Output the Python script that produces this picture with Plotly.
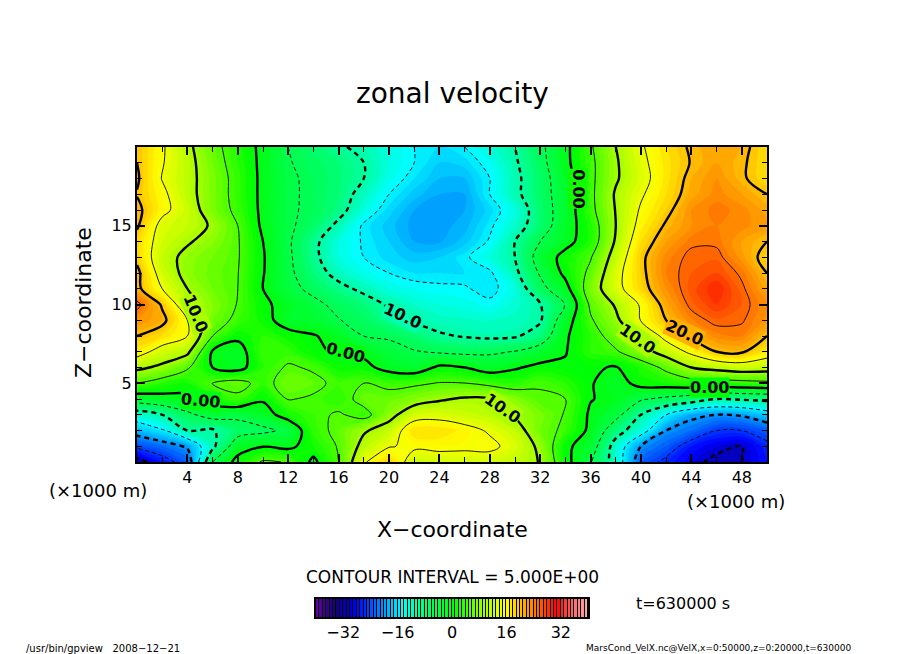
import plotly.graph_objects as go

W, H = 904, 654

x_km = [0, 2, 4, 6, 8, 10, 12, 14, 16, 18, 20, 22, 24, 26, 28, 30, 32, 34, 36, 38, 40, 42, 44, 46, 48, 50]
z_km = list(range(21))

# zonal velocity, one list per height (z in km)
u_z00 = [-32, -27, -23, -5, 1.5, 5.5, 4.8, -1, 5, 14.5, 19, 12.5, 13, 13, 13, 12, 9.8, 1.5, -4.7, -12, -23, -26, -29, -31, -30, -27]
u_z01 = [-24, -22, -19.5, -11, -2, -0.2, -1, 2, 5.3, 11.5, 14.7, 15.8, 16, 15.8, 16, 13.5, 9, 1, -2.5, -12, -20, -23, -27, -29, -30, -26]
u_z02 = [-18, -15.5, -10, -10.5, -7, -6, -4, 3.5, 6, 9.5, 12, 18, 18, 16.5, 14.5, 12, 7, 4, -1, -8, -13, -20, -22, -25, -25, -23]
u_z03 = [-12.5, -10, -6, -3, -4, -2, 2, 4, 5.5, 3.5, 8.5, 13, 13.5, 12.5, 11.5, 9.5, 7.5, 4.7, -0.7, -3.5, -10, -15, -19, -20, -19.5, -17]
u_z04 = [-2.5, -1.5, -1, 2, 4, 0.5, 5.2, 4.5, 3, 6.5, 6.5, 8, 9.5, 10.5, 10.1, 8, 5.3, 5, 0.2, -1.2, -4.5, -6, -7.5, -10, -9.5, -9]
u_z05 = [5, 3, 2, 5.2, 6.5, 3.5, 7, 6, 4, 5, 4, 4.3, 5.2, 5.1, 4, 3, 4.8, 3, 0.3, -2, 1.5, 2, 3, 3, 3.5, 4]
u_z06 = [11, 9, 5.5, 0, -1.5, 3, 5.5, 4.5, 1.5, 1.2, -1.5, -2.5, 0.8, 0, -2, -0.4, 1, 0.5, 0.5, -0.3, 2.5, 6, 10, 11.5, 12.5, 12]
u_z07 = [17, 13, 11, -0.5, -2, 4, 3.5, 0.7, -0.5, -1, -3.5, -4.7, -5.5, -6, -5.7, -4.8, -2.5, -0.2, 3, 4.5, 8, 12, 16, 20, 20.5, 17]
u_z08 = [20, 18, 15, 5, 1, 3, 1.5, 0.3, -1.5, -5, -5.5, -7.5, -9.5, -10.3, -10.8, -10.5, -8, -0.5, 3, 7, 10.8, 16.5, 20.8, 23.5, 24, 20]
u_z09 = [23, 21, 15, 7, 4, 1.5, -2, -2.5, -4.8, -6.5, -9, -10.5, -11.5, -11.8, -12, -11.5, -10.5, -2, 4.5, 9, 15.2, 20, 23.8, 25.8, 25.3, 22.5]
u_z10 = [26, 19.5, 11.5, 8, 4.8, 0.8, -1.5, -3.8, -6.3, -8, -10.5, -12, -13, -13.5, -14.3, -12.5, -10.2, -4.8, 5.8, 10.5, 15.5, 21.5, 25.7, 28, 26, 23]
u_z11 = [21, 15, 10, 7, 5, 0, -3.5, -6.2, -8.7, -11, -13, -14, -14.5, -14.7, -16, -13, -6.5, -1.5, 7.5, 13.5, 18.5, 23, 26.5, 29, 25.5, 21.5]
u_z12 = [21, 13, 8.5, 6.5, 5.1, 0.2, -4, -8, -11.5, -13.5, -15, -16, -16, -16, -15.5, -11, -4.5, 1, 6, 13.5, 19, 24, 26, 27, 24.5, 20]
u_z13 = [19, 12, 8.7, 7, 5.3, 0.3, -4.2, -9, -13, -15, -16.5, -17.5, -17, -15.5, -13, -10, -3, 1.5, 4.7, 12, 19.2, 23.5, 25.7, 25.8, 22.5, 18.5]
u_z14 = [18.5, 13, 10.5, 8.2, 5.3, 0, -4.4, -9, -13, -15.3, -17, -19, -19.2, -17.5, -14.7, -10, -5, -1.5, 2.5, 10.5, 18, 22, 24.5, 24.5, 22, 20]
u_z15 = [20.5, 13.5, 12, 9.5, 5, -0.8, -4.2, -7, -11, -15.5, -17.5, -19.5, -19.5, -18.5, -15.5, -12, -7.5, -2, 2.5, 10, 16.5, 20.5, 23, 24, 23.5, 22]
u_z16 = [21, 16.2, 12.5, 7.5, 4, -1, -4.3, -6, -8.5, -13, -16.5, -19, -19.5, -19, -16.5, -13, -7.5, -2.5, 3.8, 10.2, 15.5, 19, 23, 24.5, 23.5, 21.5]
u_z17 = [19.8, 16, 11.5, 7.5, 3.5, -1, -4.2, -6, -8, -11.5, -15, -17.5, -19, -19, -15, -11, -7, -2.5, 4, 10.5, 14.5, 18, 21.5, 23.5, 22, 20]
u_z18 = [20.5, 14.8, 11.5, 7.5, 3.5, -1, -4.3, -6, -7.8, -10, -13.5, -16, -18, -18, -15, -11, -7, -2, 4, 9.5, 13.5, 17.5, 21, 23, 20.5, 18]
u_z19 = [20, 15.3, 11.5, 7, 3, -1, -4.7, -6.5, -8, -10, -13, -15, -17, -16.5, -14, -10.5, -6.5, -1, 4, 9.5, 14, 17.5, 20.2, 22, 20.5, 18]
u_z20 = [20, 15.5, 11, 6.5, 2.5, -1, -5, -7.5, -9.5, -11, -13, -15, -16, -15, -12.5, -10, -6, -1, 4.5, 10, 14.5, 18, 20.5, 22, 21, 18]
u = [u_z00, u_z01, u_z02, u_z03, u_z04, u_z05, u_z06, u_z07, u_z08, u_z09, u_z10,
     u_z11, u_z12, u_z13, u_z14, u_z15, u_z16, u_z17, u_z18, u_z19, u_z20]

x_ticks = [4, 8, 12, 16, 20, 24, 28, 32, 36, 40, 44, 48]
z_ticks = [5, 10, 15]
cbar_levels = [v + 0.5 for v in range(-40, 40)]
cbar_ticks = [-32, -16, 0, 16, 32]
cbar_ticktext = ["−32", "−16", "0", "16", "32"]

# contour labels
label_text = ["10.0", "0.00", "0.00", "10.0", "0.00", "10.0", "10.0", "20.0", "0.00"]
label_x = [4.67, 5.06, 16.53, 21.04, 34.97, 29.04, 39.7, 43.43, 45.4]
label_z = [9.43, 3.92, 6.96, 9.3, 17.34, 3.42, 7.85, 8.23, 4.75]
label_angle = [68, 5, 15, 25, 90, 35, 35, 25, 0]
label_bg = ["#aaff00", "#00ff10", "#00ff10", "#00ffb0", "#10ff00", "#aaff00", "#aaff00", "#ffb000", "#00ff00"]

FONT = "DejaVu Sans"

stops = [
    (-40, (110, 0, 170)), (-37, (60, 0, 140)), (-34, (20, 0, 130)), (-30, (0, 0, 200)),
    (-28, (0, 0, 255)), (-22, (0, 110, 255)), (-19, (0, 170, 255)), (-14.5, (0, 255, 255)),
    (-11, (0, 255, 180)), (-7, (0, 255, 100)), (-2, (0, 255, 40)), (1, (0, 255, 0)),
    (9, (150, 255, 0)), (16, (255, 255, 0)), (24, (255, 130, 0)), (31, (255, 0, 0)),
    (35, (255, 90, 90)), (40, (255, 170, 170)),
]
colorscale = [[(v + 40) / 80, "rgb(%d,%d,%d)" % c] for v, c in stops]


def px_x(px):
    return px / W


def px_y(py):
    return 1 - py / H


fig = go.Figure()

fig.add_trace(go.Contour(
    x=x_km, y=z_km, z=u, colorscale=colorscale, zmin=-40, zmax=40, showscale=False,
    contours=dict(start=-40, end=40, size=1, coloring="fill", showlines=False),
    line=dict(width=0), hoverinfo="skip",
))


def add_lines(start, end, width, dash):
    fig.add_trace(go.Contour(
        x=x_km, y=z_km, z=u, showscale=False, hoverinfo="skip",
        contours=dict(start=start, end=end, size=10, coloring="none"),
        line=dict(color="black", width=width, dash=dash),
    ))


add_lines(0, 20, 2.4, "solid")
add_lines(5, 25, 0.9, "solid")
add_lines(-30, -10, 2.4, "5px,4px")
add_lines(-25, -5, 0.9, "4px,3px")

fig.add_trace(go.Heatmap(
    x=cbar_levels, y=[0], z=[cbar_levels], xaxis="x2", yaxis="y2", colorscale=colorscale,
    zmin=-40, zmax=40, showscale=False, xgap=1, hoverinfo="skip",
))

tick_font = dict(family=FONT, size=16, color="black")
fig.update_layout(
    width=W, height=H, margin=dict(l=0, r=0, t=0, b=0),
    paper_bgcolor="white", plot_bgcolor="black", showlegend=False,
    font=dict(family=FONT, color="black"),
    xaxis=dict(
        domain=[px_x(137), px_x(767)], range=[0, 50], tickmode="array", tickvals=x_ticks,
        ticks="inside", ticklen=8, tickwidth=2, tickcolor="black", tickfont=tick_font,
        showline=True, linecolor="black", linewidth=2, mirror="allticks", showgrid=False, zeroline=False,
        minor=dict(tickvals=[v for v in x_km if v not in x_ticks], ticks="inside", ticklen=5, tickwidth=1, tickcolor="black", showgrid=False),
    ),
    yaxis=dict(
        domain=[px_y(462), px_y(147)], range=[0, 20], tickmode="array", tickvals=z_ticks,
        ticks="inside", ticklen=8, tickwidth=2, tickcolor="black", tickfont=tick_font,
        showline=True, linecolor="black", linewidth=2, mirror="allticks", showgrid=False, zeroline=False,
        minor=dict(tickvals=[v for v in z_km if v not in z_ticks], ticks="inside", ticklen=5, tickwidth=1, tickcolor="black", showgrid=False),
    ),
    xaxis2=dict(
        domain=[px_x(316), px_x(588)], range=[-40, 40], anchor="y2", tickmode="array",
        tickvals=cbar_ticks, ticktext=cbar_ticktext, ticks="", tickfont=tick_font,
        showline=True, linecolor="black", linewidth=2, mirror=True, showgrid=False, zeroline=False,
    ),
    yaxis2=dict(
        domain=[px_y(617), px_y(599)], anchor="x2", showticklabels=False, ticks="",
        showline=True, linecolor="black", linewidth=2, mirror=True, showgrid=False, zeroline=False,
    ),
)

annotations = []
for t, lx, lz, a, bg in zip(label_text, label_x, label_z, label_angle, label_bg):
    annotations.append(dict(x=lx, y=lz, xref="x", yref="y", text="<b>%s</b>" % t, textangle=a, showarrow=False,
                            bgcolor=bg, borderpad=0, font=dict(family=FONT, size=16, color="black")))


def add_text(px, py, text, size, anchor="center", angle=0):
    annotations.append(dict(x=px_x(px), y=px_y(py), xref="paper", yref="paper", text=text, showarrow=False,
                            xanchor=anchor, yanchor="middle", textangle=angle,
                            font=dict(family=FONT, size=size, color="black")))


add_text(452, 93, "zonal velocity", 28)
add_text(452, 529, "X−coordinate", 22)
add_text(83, 303, "Z−coordinate", 22, angle=-90)
add_text(47, 490, "(×1000 m)", 18, anchor="left")
add_text(685, 501, "(×1000 m)", 18, anchor="left")
add_text(452, 577, "CONTOUR INTERVAL = 5.000E+00", 17)
add_text(634, 603, "t=630000 s", 16, anchor="left")
add_text(24, 648, "/usr/bin/gpview   2008−12−21", 10, anchor="left")
add_text(584, 648, "MarsCond_VelX.nc@VelX,x=0:50000,z=0:20000,t=630000", 9, anchor="left")
fig.update_layout(annotations=annotations)

fig.write_html("out.html", config={"displayModeBar": False}, post_script="document.body.style.margin='0';")
